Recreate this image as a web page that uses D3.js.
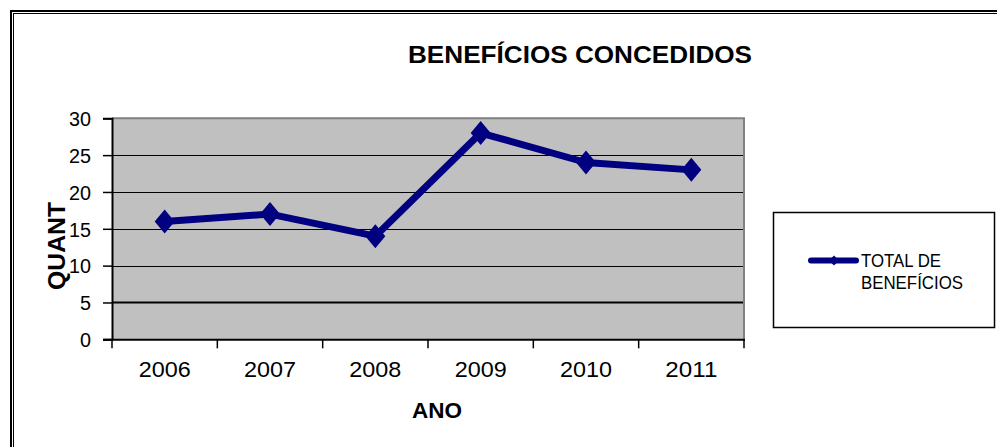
<!DOCTYPE html>
<html><head><meta charset="utf-8">
<script src="https://cdn.jsdelivr.net/npm/d3@7"></script>
<style>body{margin:0;background:#fff}svg{display:block}text{font-family:Arial,"Liberation Sans",sans-serif}</style>
</head><body>
<svg id="c" width="997" height="447"></svg>
<script>
const years = ["2006","2007","2008","2009","2010","2011"];
const values = [16,17,14,28,24,23];
const yTicks = [0,5,10,15,20,25,30];
const title = "BENEFÍCIOS CONCEDIDOS";
const xTitle = "ANO";
const yTitle = "QUANT";
const seriesName = ["TOTAL DE","BENEFÍCIOS"];

const svg = d3.select("#c");
// outer double frame
svg.append("rect").attr("x",11).attr("y",11).attr("width",1200).attr("height",1200)
  .attr("fill","none").attr("stroke","#000").attr("stroke-width",2);
svg.append("rect").attr("x",13.5).attr("y",13.5).attr("width",1200).attr("height",1200)
  .attr("fill","none").attr("stroke","#000").attr("stroke-width",1);

const L=112, R=744, T=118.3, B=339.3;
const x = d3.scaleBand().domain(years).range([L,R]);
const y = d3.scaleLinear().domain([0,30]).range([B,T]);

svg.append("rect").attr("x",L).attr("y",T).attr("width",R-L).attr("height",B-T).attr("fill","#c0c0c0");
// grid
svg.append("g").selectAll("line").data(yTicks.filter(d=>d>0&&d<30)).join("line")
  .attr("x1",L).attr("x2",R).attr("y1",d=>Math.round(y(d))+0.5).attr("y2",d=>Math.round(y(d))+0.5)
  .attr("stroke","#000").attr("stroke-width",d=>d===5?2:1);
// top/right gray border
svg.append("path").attr("d",`M${L},${T} H${R} V${B}`).attr("fill","none").attr("stroke","#808080").attr("stroke-width",2);

// axes
const ya = svg.append("g").attr("transform",`translate(${L},0)`)
  .call(d3.axisLeft(y).tickValues(yTicks).tickSize(9).tickPadding(12));
ya.select(".domain").attr("stroke","#000").attr("stroke-width",2);
ya.selectAll(".tick line").attr("stroke","#000").attr("stroke-width",1.5);
ya.selectAll("text").attr("font-size",20).attr("fill","#000").attr("dy","0.36em")
  .attr("textLength",d=>String(d).length*11).attr("lengthAdjust","spacingAndGlyphs");

const xa = svg.append("g").attr("transform",`translate(0,${B})`)
  .call(d3.axisBottom(x).tickSize(0).tickPadding(22));
xa.select(".domain").remove();
xa.selectAll("text").attr("font-size",22).attr("fill","#000").attr("dy","0.7em")
  .attr("textLength",52).attr("lengthAdjust","spacingAndGlyphs");
svg.append("line").attr("x1",L-9).attr("x2",R+1).attr("y1",B+0.5).attr("y2",B+0.5).attr("stroke","#000").attr("stroke-width",2);
svg.append("g").selectAll("line").data(years.map(d=>x(d)).concat([R])).join("line")
  .attr("x1",d=>d).attr("x2",d=>d).attr("y1",B).attr("y2",B+9).attr("stroke","#000").attr("stroke-width",1.5);

// line
const line = d3.line().x((d,i)=>x(years[i])+x.bandwidth()/2).y(d=>y(d));
svg.append("path").datum(values).attr("d",line).attr("fill","none")
  .attr("stroke","#000080").attr("stroke-width",7).attr("stroke-linejoin","round");
const dia = "M0,-12 L10,0 L0,12 L-10,0 Z";
svg.append("g").selectAll("path").data(values).join("path")
  .attr("d",dia).attr("fill","#000080")
  .attr("transform",(d,i)=>`translate(${x(years[i])+x.bandwidth()/2},${y(d)})`);

// titles
svg.append("text").attr("x",580).attr("y",63).attr("text-anchor","middle")
  .attr("font-size",23.5).attr("font-weight","bold")
  .attr("textLength",344).attr("lengthAdjust","spacingAndGlyphs").text(title);
svg.append("text").attr("x",437).attr("y",418).attr("text-anchor","middle")
  .attr("font-size",21.5).attr("font-weight","bold")
  .attr("textLength",50).attr("lengthAdjust","spacingAndGlyphs").text(xTitle);
svg.append("text").attr("transform","translate(65,246) rotate(-90)").attr("text-anchor","middle")
  .attr("font-size",23).attr("font-weight","bold")
  .attr("textLength",88).attr("lengthAdjust","spacingAndGlyphs").text(yTitle);

// legend
svg.append("rect").attr("x",773.5).attr("y",212.5).attr("width",221).attr("height",115)
  .attr("fill","#fff").attr("stroke","#000").attr("stroke-width",1.5);
svg.append("line").attr("x1",811).attr("x2",856).attr("y1",260.5).attr("y2",260.5)
  .attr("stroke","#000080").attr("stroke-width",6).attr("stroke-linecap","round");
svg.append("path").attr("d","M0,-5 L5,0 L0,5 L-5,0 Z").attr("fill","#000080").attr("transform","translate(834,260.5)");
svg.append("text").attr("x",861).attr("y",267).attr("font-size",18)
  .attr("textLength",80).attr("lengthAdjust","spacingAndGlyphs").text(seriesName[0]);
svg.append("text").attr("x",861).attr("y",289).attr("font-size",18)
  .attr("textLength",102).attr("lengthAdjust","spacingAndGlyphs").text(seriesName[1]);
</script>
</body></html>
